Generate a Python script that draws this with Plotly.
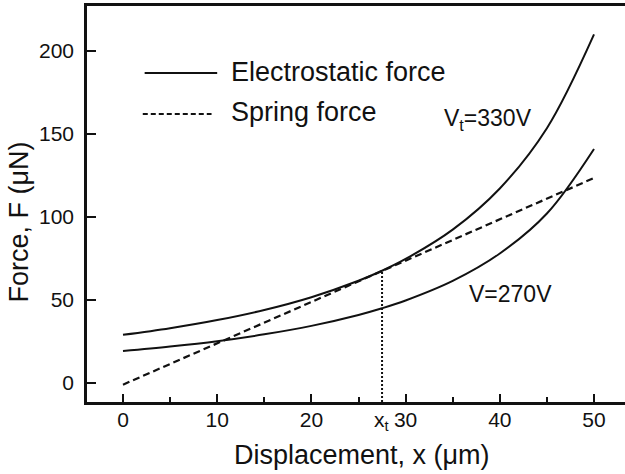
import plotly.graph_objects as go

# Data
x_disp = [0, 5, 10, 15, 20, 25, 27.5, 30, 35, 40, 45, 50]
f_330 = [29.0, 33.0, 37.9, 44.0, 51.7, 61.6, 67.6, 74.7, 92.4, 117.2, 153.5, 210.0]
f_270 = [19.3, 22.0, 25.2, 29.3, 34.4, 41.0, 45.0, 49.7, 61.5, 78.0, 102.1, 141.0]
x_spring = [0, 50]
f_spring = [-1.0, 123.5]
x_t = 27.5
f_t = 67.6

x_ticks = [0, 10, 20, 30, 40, 50]
y_ticks = [0, 50, 100, 150, 200]

FONT = "Liberation Sans, Arial, sans-serif"
INK = "#111111"

fig = go.Figure()
fig.add_trace(go.Scatter(x=x_disp, y=f_330, mode="lines", line=dict(color=INK, width=2, shape="spline"),
                         name="Electrostatic force", showlegend=False))
fig.add_trace(go.Scatter(x=x_disp, y=f_270, mode="lines", line=dict(color=INK, width=2, shape="spline"),
                         name="Electrostatic force 270V", showlegend=False))
fig.add_trace(go.Scatter(x=x_spring, y=f_spring, mode="lines", line=dict(color=INK, width=2.2, dash="7px,4px"),
                         name="Spring force", showlegend=False))
fig.add_trace(go.Scatter(x=[x_t, x_t], y=[-11.4, f_t], mode="lines", line=dict(color=INK, width=2, dash="2px,2px"),
                         showlegend=False, cliponaxis=False))

# Manual legend
fig.add_shape(type="line", xref="x", yref="y", x0=2.3, x1=10.0, y0=186.7, y1=186.7,
              line=dict(color=INK, width=2))
fig.add_shape(type="line", xref="x", yref="y", x0=2.1, x1=9.4, y0=162, y1=162,
              line=dict(color=INK, width=2, dash="5px,3px"))
fig.add_annotation(x=11.3, y=187.5, xref="x", yref="y", text="Electrostatic force", showarrow=False,
                   xanchor="left", yanchor="middle", font=dict(family=FONT, size=27, color=INK))
fig.add_annotation(x=11.3, y=163, xref="x", yref="y", text="Spring force", showarrow=False,
                   xanchor="left", yanchor="middle", font=dict(family=FONT, size=27, color=INK))

# Curve labels
fig.add_annotation(x=38.7, y=159, xref="x", yref="y", text="V<sub>t</sub>=330V", showarrow=False,
                   font=dict(family=FONT, size=23, color=INK))
fig.add_annotation(x=41.1, y=53.6, xref="x", yref="y", text="V=270V", showarrow=False,
                   font=dict(family=FONT, size=23, color=INK))
fig.add_annotation(x=27.45, y=-0.048, xref="x", yref="paper", text="x<sub>t</sub>", showarrow=False,
                   xanchor="center", yanchor="middle", font=dict(family=FONT, size=21, color=INK))

# Axis titles
fig.add_annotation(x=-0.127, y=0.455, xref="paper", yref="paper", text="Force, F (μN)", showarrow=False,
                   textangle=-90, xanchor="center", yanchor="middle",
                   font=dict(family=FONT, size=27, color=INK))
fig.add_annotation(x=0.511, y=-0.133, xref="paper", yref="paper", text="Displacement, x (μm)", showarrow=False,
                   xanchor="center", yanchor="middle",
                   font=dict(family=FONT, size=27, color=INK))

fig.update_layout(
    width=625, height=474,
    margin=dict(l=87, r=0, t=6, b=72),
    plot_bgcolor="white", paper_bgcolor="white",
    font=dict(family=FONT, color=INK),
    xaxis=dict(range=[-3.82, 53.29], tickvals=x_ticks, ticks="inside", ticklen=8, tickwidth=2,
               tickcolor=INK, showline=True, linewidth=2.5, linecolor=INK, mirror=True,
               showgrid=False, zeroline=False, tickfont=dict(size=21, family=FONT, color=INK),
               ticklabelstandoff=-3,
               minor=dict(tickvals=[5, 15, 25, 35, 45], ticks="inside", ticklen=5, tickwidth=2, tickcolor=INK)),
    yaxis=dict(range=[-11.45, 227.1], tickvals=y_ticks, ticks="inside", ticklen=9, tickwidth=2,
               tickcolor=INK, showline=True, linewidth=2.5, linecolor=INK,
               showgrid=False, zeroline=False, tickfont=dict(size=21, family=FONT, color=INK),
               ticklabelstandoff=6),
)

fig.write_html("out.html")
